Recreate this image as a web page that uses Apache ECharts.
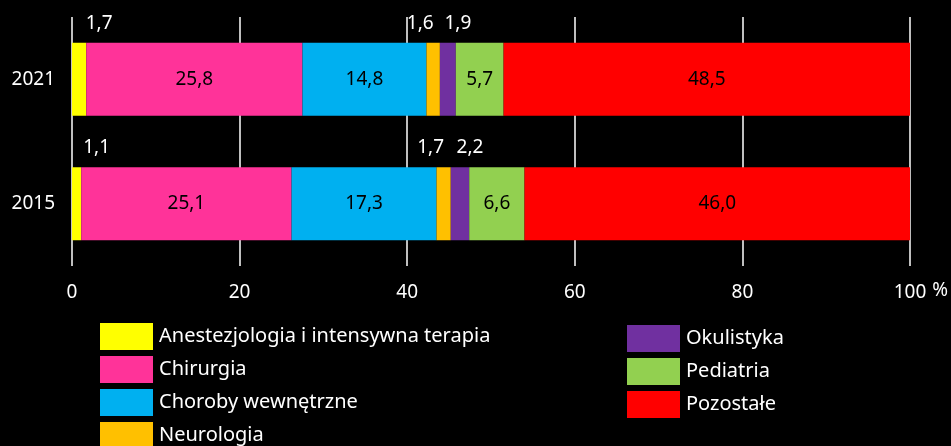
<!DOCTYPE html>
<html>
<head>
<meta charset="utf-8">
<title>ECharts</title>
<script src="https://cdn.jsdelivr.net/npm/echarts@6/dist/echarts.min.js"></script>
<style>
  html, body { margin: 0; padding: 0; background: #000; }
</style>
</head>
<body>
<div id="main" style="width: 951px;height:446px;"></div>
<script type="text/javascript">
// lata (od dołu)
var years = ['2015', '2021'];
var xTicks = [0, 20, 40, 60, 80, 100];

// udział procentowy, kolejno: 2015, 2021
var anestezjologia = [1.1, 1.7];
var chirurgia = [25.1, 25.8];
var choroby = [17.3, 14.8];
var neurologia = [1.7, 1.6];
var okulistyka = [2.2, 1.9];
var pediatria = [6.6, 5.7];
var pozostale = [46.0, 48.5];

var names = ['Anestezjologia i intensywna terapia', 'Chirurgia', 'Choroby wewnętrzne',
  'Neurologia', 'Okulistyka', 'Pediatria', 'Pozostałe'];
var values = [anestezjologia, chirurgia, choroby, neurologia, okulistyka, pediatria, pozostale];
var colors = ['#ffff00', '#ff3399', '#00b0f0', '#ffc000', '#7030a0', '#92d050', '#ff0000'];

var font = 'Noto Sans';
var fmt = function (p) { return p.value.toFixed(1).replace('.', ','); };

// małe wartości podpisane nad słupkiem
var outside = { 0: 20, 3: -13, 4: 10 };

var series = names.map(function (n, i) {
  var lbl;
  if (outside[i] !== undefined) {
    lbl = { show: true, position: 'top', distance: 10, offset: [outside[i], 0],
      color: '#fff', fontSize: 19, fontFamily: font, formatter: fmt };
  } else {
    lbl = { show: true, position: 'inside', color: '#000', fontSize: 19,
      fontFamily: font, formatter: fmt };
  }
  return {
    name: n,
    type: 'bar',
    stack: 'all',
    barWidth: 73,
    itemStyle: { color: colors[i] },
    label: lbl,
    emphasis: { disabled: true },
    data: values[i]
  };
});

var legendText = { color: '#fff', fontSize: 20, fontFamily: font, padding: [0, 0, 0, 1] };

var myChart = echarts.init(document.getElementById('main'));
myChart.setOption({
  backgroundColor: '#000',
  animation: false,
  grid: { left: 72, right: 40, top: 17, height: 249 },
  legend: [{
    data: names.slice(0, 4),
    orient: 'vertical',
    left: 100, top: 323, height: 160, padding: 0,
    itemWidth: 53, itemHeight: 27, itemGap: 6,
    icon: 'rect',
    textStyle: legendText
  }, {
    data: names.slice(4),
    orient: 'vertical',
    left: 627, top: 325, height: 160, padding: 0,
    itemWidth: 53, itemHeight: 27, itemGap: 6,
    icon: 'rect',
    textStyle: legendText
  }],
  xAxis: {
    type: 'value',
    min: xTicks[0], max: xTicks[xTicks.length - 1], interval: 20,
    axisLine: { show: false },
    axisTick: { show: false },
    splitLine: { lineStyle: { color: '#fff', width: 1.5 } },
    axisLabel: { color: '#fff', fontSize: 19, fontFamily: font, margin: 17 },
    name: '%',
    nameLocation: 'end',
    nameGap: 17,
    nameTextStyle: { color: '#fff', fontSize: 19, fontFamily: font,
      verticalAlign: 'top', padding: [15, 0, 0, 0] }
  },
  yAxis: {
    type: 'category',
    data: years,
    axisLine: { show: false },
    axisTick: { show: false },
    axisLabel: { color: '#fff', fontSize: 19, fontFamily: font, margin: 17 }
  },
  series: series
});
</script>
</body>
</html>
